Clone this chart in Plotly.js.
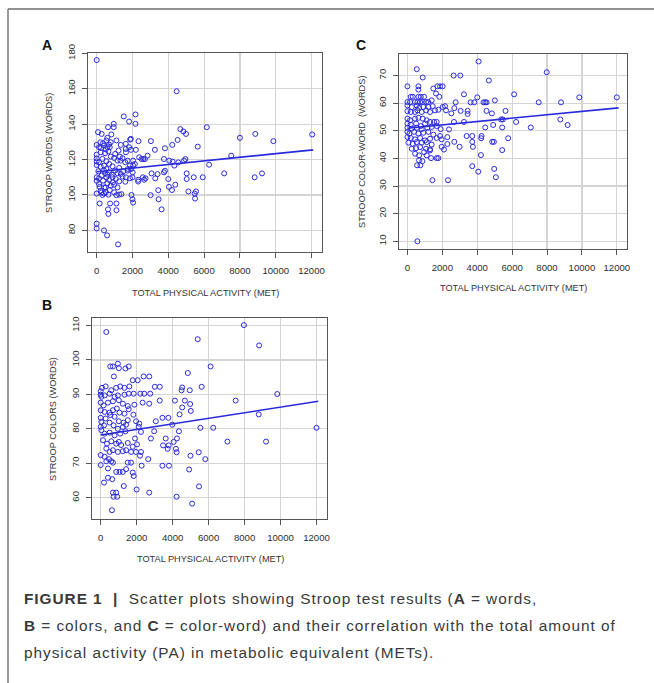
<!DOCTYPE html>
<html><head><meta charset="utf-8">
<script src="https://cdn.plot.ly/plotly-3.0.1.min.js"></script>
<style>html,body{margin:0;padding:0;background:#fff;}#chart{width:654px;height:683px;}</style>
</head><body><div id="chart"></div>
<script>
// ---------- DATA ----------
const xTickVals = [0, 2000, 4000, 6000, 8000, 10000, 12000];
const xTickText = ["0", "2000", "4000", "6000", "8000", "10000", "12000"];
const aTickVals = [80, 100, 120, 140, 160, 180];
const bTickVals = [60, 70, 80, 90, 100, 110];
const cTickVals = [10, 20, 30, 40, 50, 60, 70];

// Panel A: Stroop words
const aX = [0,4467,1514,2168,2168,1813,953,953,636,75,280,598,822,1103,1346,1626,1869,1907,2336,3028,0,243,411,598,692,1626,1813,2187,3252,3813,4224,4673,4841,4990,4523,5645,6149,6280,7121,7514,8000,8860,8823,9233,9869,12037,5925,5420,5028,5028,4953,4878,4560,4336,4243,4056,4000,4392,4205,4037,5121,5476,5551,5495,3813,3757,3757,3458,3626,3439,3402,3271,3009,3065,2841,2692,2598,2505,2729,2654,2579,2318,2318,2374,2037,2131,2000,2037,1944,2000,2037,1383,1103,1103,1103,748,636,654,168,411,580,1196,0,0,0,0,0,0,0,0,0,168,262,411,505,
131,357,507,732,225,470,657,789,977,1164,1296,1446,1333,1596,1728,1860,1746,1484,1258,1033,883,695,545,319,131,225,413,545,695,845,470,282,131,357,545,695,883,1070,1258,1446,1596,601,789,977,1164,413,225,507,732,977,1258,657,319,131,94,413,601,920,1164,1352,1728,1916,2010,1634,1860,1634,1916,1221,1033,789,545,207];
const aY = [176.2,158.6,144.4,145.5,140.2,141.5,140.2,138.3,138.3,135.5,134.5,132.3,134.2,130.8,128.3,128.9,131.3,131.7,130.4,130.4,128.3,126.6,127.9,127,128.5,126,127,125.5,125.5,126.4,128.3,137.2,135.9,134.5,131.1,127.3,138.3,117.1,112.2,122.2,132.3,134.5,110,112.2,130.4,134.2,110,110,112.2,109,120.3,119.4,118.4,116.6,118.8,119.4,109,105.8,102.8,104.6,102,100.8,102,98,113.7,112.8,120.3,97.6,91.9,102.7,111.8,109.4,99.9,112.2,122.2,120.3,120.3,120.3,109.4,108.6,110,108.6,107.6,121.3,119.4,117.5,110,116.6,100,97.6,95.7,100.5,99.9,95.2,91.4,95.2,91.9,89.3,95.2,80,77.2,72.1,83.8,81.1,100.8,110,108,116.9,119,120.7,122.8,104.6,101.4,100.8,104.2,
127,129.2,125.8,127,124.1,123.6,124.7,121.7,120.9,119.4,121.7,120.8,119.4,118.5,119.4,116.6,114.7,113.4,115.3,113.8,116.2,117.5,119.1,120.4,118.5,116,116.6,114.7,112.8,111.5,112.3,111,109.4,108.1,110,108.5,110,109,107.7,110.4,107.5,106.6,105.3,105.8,104.3,104.3,102.4,101.5,102.8,101.5,100.2,100.2,100,106.2,113.4,113.8,111.5,107.2,112.3,111.9,113.8,114.7,112.8,110,109.4,124.1,125.5,125.1,123.2,129.8,130.8,129.8];
const aFitX = [0, 12093];
const aFitY = [113.1, 125.5];

// Panel B: Stroop colors
const bX = [312,532,679,954,1009,1376,1560,734,1780,2055,2386,2698,275,0,0,73,587,862,1083,1321,1596,37,220,495,771,954,1321,1560,1835,2202,2422,2753,0,165,404,679,1009,1229,1505,1872,2331,2698,0,220,495,679,899,1046,1321,1560,1817,0,275,532,771,1009,1266,1505,37,183,495,716,954,1229,1413,1964,2147,0,37,220,495,771,1083,1376,2110,2239,128,349,587,862,1009,1138,1505,1780,2019,312,495,679,954,1229,1413,1688,1964,2239,0,220,458,587,312,0,679,1505,1688,404,1413,862,1046,1229,183,404,642,1284,1999,679,862,716,918,624,2698,
2276,1835,1780,2184,1908,
7964,5395,8808,6111,4844,5615,4496,4532,4954,4129,4679,4973,4532,5010,4386,7505,9817,8790,12000,5542,6257,3982,7046,9193,4349,4056,4184,4239,3780,3615,3468,3725,3762,3432,4221,4991,5450,5817,4918,3432,3798,5468,4221,5083,3065,2973,2790,3285,3010,3285,2643];
const bY = [108.1,98.1,98.1,98.9,97.6,97.5,98.1,95.2,94.1,94.1,95.2,95.2,92.3,90.9,89.9,91.9,91.2,91.9,92.3,91.9,92.3,89.3,89.7,90.2,89.3,89.7,89.9,90.2,90.2,90.2,90.2,90.2,87.6,86.8,87.6,88,88.3,87.3,86.6,87,87.6,87.3,85.4,84.9,84.7,85.4,85.9,84.7,84.4,85.7,84.1,83.2,83,84,83.5,82.2,81.8,82.5,82,81,81.8,81,80,80.5,81.2,82.2,81.5,80.6,79.6,78.6,78.9,78.1,78.6,79.3,80.6,79.1,76.7,75.7,76.4,75.7,76.2,75.3,75.9,74.8,75.5,74.3,73.3,73.8,73.3,73.5,73.8,73.3,73.3,73.3,72.4,71.9,71.2,70.6,70.6,69.5,70.2,70.2,70.2,68.5,68.3,67.5,67.5,67.5,64.4,65.8,65.4,63.4,62.4,61.5,61.5,60.3,60.3,56.4,61.5,
69.3,66.3,67.3,72.2,77.2,
110.1,106,104.2,98.1,96.2,92.2,91.2,92,91.2,88.2,88.2,87.2,86.2,85.2,84.2,88.2,90.1,84.2,80.3,80.3,80.3,81.2,76.3,76.3,79.3,76.2,74.2,77.2,75.2,77.2,75.2,74.2,83.2,83.2,73.2,72.2,73.2,71.2,68.2,69.3,69.3,63.3,60.3,58.3,82.2,79.3,77.2,88.2,92.2,92.2,71.2];
const bFitX = [0, 12100];
const bFitY = [78.2, 88.0];

// Panel C: Stroop color-word
const cX = [4077,7982,2648,3029,4667,3239,6115,4001,9849,12000,5010,4362,4457,4534,3620,3829,7525,8801,2762,2515,3048,3448,4534,5620,3448,4838,2686,5372,5467,8763,6229,3239,2667,4457,5429,7068,9182,4915,5772,3715,4229,4248,3391,2686,4858,4953,3715,3753,2991,2286,5429,4210,3715,4972,4058,5067,2324,1429,572,2381,1962,2096,
533,876,0,629,629,190,305,629,762,953,1486,1715,1867,2019,1639,1829,0,152,438,572,724,876,1067,1200,1391,0,248,533,667,914,1200,1448,1581,0,190,438,572,819,1067,1295,1772,2019,2210,2153,0,152,438,629,876,1105,1295,1524,1676,0,190,495,762,1010,0,248,533,819,1143,1391,1676,1905,0,114,381,629,914,1200,1486,1867,1962,0,190,438,724,1010,1295,1676,2286,57,305,533,819,1105,1391,248,495,724,1067,1295,438,667,953,1105,1295,1353,1676,1772,667,553,743,857];
const cY = [75.1,71.2,70,70,68.2,63.2,63.2,62.1,62.1,62.1,61,60.3,60.3,60.3,60.3,60.3,60.3,60.3,60.3,56.3,57.2,57.2,57.2,57.2,56.1,56.3,58.2,54.1,54.1,54.1,53.2,53.2,53.2,51.2,51.2,51.2,52.1,52.1,47.3,48.1,47.3,48.1,48.1,46,46,46,46,44.2,44.2,45.2,43,41.2,37.2,36.2,35.2,33.2,32.1,32.1,10,50.5,44.2,43.2,
72.3,69.3,66.1,66.1,64.9,62.3,62.3,62.3,62.3,62.3,65.3,66.1,66.1,66.1,63.5,62.3,60.4,60.4,60.4,60.4,60.4,60.4,60.4,60.4,61,59.2,58.6,59.2,58.3,58.6,58.6,58.9,57.4,57.1,56.8,56.8,57.4,56.8,57.4,56.8,57.6,58.6,57.4,58.9,54.4,53.8,54.4,54.7,54.4,53.8,53.2,53.2,53.2,52.6,52.2,52.6,51.7,52.6,51.1,50.8,51.1,50.6,51.1,51.4,51.7,50.6,49.6,49,49.6,49,49.3,49.6,48.6,48.1,46.9,47.7,47.4,46.9,47.4,46.5,47.1,47.4,47.7,45.7,45.3,45.9,45.7,45.9,45,43.5,43.7,44.1,43.5,43.3,41.7,41.1,42.3,41.1,42.9,40.1,40.1,40.1,39.3,37.5,37.5,39];
const cFitX = [0, 12100];
const cFitY = [50.9, 58.3];

// ---------- LAYOUT ----------
const W = 654, H = 683;
const px = v => v / W;
const py = v => 1 - v / H;
const FONT = 'Liberation Sans, Arial, Helvetica, sans-serif';
const BLUE = '#2a2ade';

function xAxis(dom, anchor) {
  return {domain: dom, anchor: anchor, range: [-484, 12584], tickmode: 'array',
    tickvals: xTickVals, ticktext: xTickText, showgrid: true, gridcolor: '#d4d4d4', gridwidth: 1.2,
    zeroline: false, showline: true, mirror: true, linecolor: '#555', linewidth: 1,
    ticks: 'outside', ticklen: 5, tickwidth: 1, tickcolor: '#555', ticklabelstandoff: 4,
    tickfont: {family: FONT, size: 9.6, color: '#2e2e2e'}, fixedrange: true};
}
function yAxis(dom, anchor, range, vals) {
  return {domain: dom, anchor: anchor, range: range, tickmode: 'array',
    tickvals: vals, ticktext: vals.map(String), showgrid: true, gridcolor: '#d4d4d4', gridwidth: 1.2,
    zeroline: false, showline: true, mirror: true, linecolor: '#555', linewidth: 1,
    ticks: 'outside', ticklen: 5, tickwidth: 1, tickcolor: '#555', tickangle: -90, ticklabelstandoff: 3,
    tickfont: {family: FONT, size: 9.6, color: '#2e2e2e'}, fixedrange: true};
}
function pts(x, y, xa, ya) {
  return {x: x, y: y, xaxis: xa, yaxis: ya, type: 'scatter', mode: 'markers', hoverinfo: 'skip',
    marker: {symbol: 'circle-open', size: 5, color: BLUE, line: {width: 1, color: BLUE}}, showlegend: false};
}
function fit(x, y, xa, ya) {
  return {x: x, y: y, xaxis: xa, yaxis: ya, type: 'scatter', mode: 'lines', hoverinfo: 'skip',
    line: {color: BLUE, width: 1.6}, showlegend: false};
}

const data = [
  pts(aX, aY, 'x', 'y'), fit(aFitX, aFitY, 'x', 'y'),
  pts(cX, cY, 'x2', 'y2'), fit(cFitX, cFitY, 'x2', 'y2'),
  pts(bX, bY, 'x3', 'y3'), fit(bFitX, bFitY, 'x3', 'y3')
];

function ann(text, x, y, opts) {
  return Object.assign({text: text, x: px(x), y: py(y), xref: 'paper', yref: 'paper',
    xanchor: 'center', yanchor: 'middle',
    showarrow: false, font: {family: FONT, size: 9.2, color: '#333'}}, opts || {});
}
const capFont = {family: FONT, size: 15.4, color: '#3a3a3a'};

const layout = {
  width: W, height: H, margin: {l: 0, r: 0, t: 0, b: 0},
  paper_bgcolor: '#fff', plot_bgcolor: '#fff', showlegend: false,
  xaxis: xAxis([px(88), px(322)], 'y'),
  yaxis: yAxis([py(252), py(53)], 'x', [67.8, 180.2], aTickVals),
  xaxis2: xAxis([px(399), px(627)], 'y2'),
  yaxis2: yAxis([py(249), py(54)], 'x2', [7.2, 77.8], cTickVals),
  xaxis3: xAxis([px(92), px(327)], 'y3'),
  yaxis3: yAxis([py(519), py(318)], 'x3', [53.84, 112.16], bTickVals),
  annotations: [
    ann('<b>A</b>', 47, 45, {font: {family: FONT, size: 14, color: '#111'}}),
    ann('<b>C</b>', 361, 45, {font: {family: FONT, size: 14, color: '#111'}}),
    ann('<b>B</b>', 47, 305, {font: {family: FONT, size: 14, color: '#111'}}),
    ann('TOTAL PHYSICAL ACTIVITY (MET)', 205, 293),
    ann('STROOP WORDS (WORDS)', 49, 153, {textangle: -90}),
    ann('TOTAL PHYSICAL ACTIVITY (MET)', 513, 288),
    ann('STROOP COLOR-WORD&nbsp; (WORDS)', 362, 152, {textangle: -90}),
    ann('TOTAL PHYSICAL ACTIVITY (MET)', 210, 559),
    ann('STROOP COLORS (WORDS)', 53, 419, {textangle: -90}),
    ann('<b>FIGURE 1</b>  <b>|</b>  Scatter plots showing Stroop test results (<b>A</b> = words,', 22, 598, {xanchor: 'left', font: capFont}),
    ann('<b>B</b> = colors, and <b>C</b> = color-word) and their correlation with the total amount of', 22, 625, {xanchor: 'left', font: capFont}),
    ann('physical activity (PA) in metabolic equivalent (METs).', 22, 652, {xanchor: 'left', font: capFont})
  ],
  shapes: [
    {type: 'line', xref: 'paper', yref: 'paper', x0: px(8), x1: px(654), y0: py(9), y1: py(9), line: {color: '#6e6e6e', width: 1.4}},
    {type: 'line', xref: 'paper', yref: 'paper', x0: px(8), x1: px(8), y0: py(9), y1: py(683), line: {color: '#6e6e6e', width: 1.4}}
  ]
};

Plotly.newPlot('chart', data, layout, {staticPlot: true, displayModeBar: false}).then(function () {
  // widen caption letter spacing to match the reference typeface, keeping the left edge fixed
  [9, 10, 11].forEach(function (i) {
    document.querySelectorAll('.annotation[data-index="' + i + '"] text.annotation-text').forEach(function (t) {
      var left = t.getBBox().x;
      t.setAttribute('text-anchor', 'start');
      t.setAttribute('x', left);
      t.style.letterSpacing = '0.95px';
    });
  });
});
</script></body></html>
